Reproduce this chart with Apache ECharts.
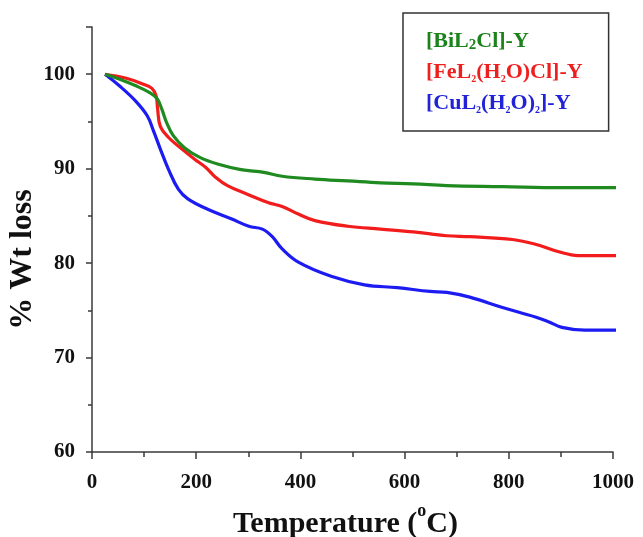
<!DOCTYPE html>
<html>
<head>
<meta charset="utf-8">
<script src="https://cdn.jsdelivr.net/npm/echarts@6/dist/echarts.min.js"></script>
<style>
  html, body { margin: 0; padding: 0; background: #fff; }
  #chart { width: 643px; height: 537px; }
</style>
</head>
<body>
<div id="chart"></div>
<script>
// TGA curves: residual mass (%) against temperature (°C)
const seriesNames = ['BiL2Cl', 'FeL2H2OCl', 'CuL2H2O2'];

const biTemp = [25, 52, 83, 109, 125, 134, 143, 156, 178, 207, 241, 286, 330, 365, 428, 491, 554, 617, 681, 788, 900, 1010];
const biMass = [100, 99.5, 98.8, 98.1, 97.4, 96.3, 94.9, 93.5, 92.2, 91.2, 90.5, 89.9, 89.6, 89.2, 88.9, 88.7, 88.5, 88.4, 88.2, 88.1, 88.0, 88.0];

const feTemp = [25, 64, 96, 115, 123, 126, 131, 147, 172, 197, 219, 235, 260, 298, 339, 365, 396, 428, 491, 554, 617, 681, 725, 807, 851, 896, 933, 1010];
const feMass = [100, 99.6, 99.0, 98.5, 97.7, 96.3, 94.5, 93.3, 92.1, 91.0, 90.1, 89.2, 88.2, 87.3, 86.4, 86.0, 85.2, 84.5, 83.9, 83.6, 83.3, 82.9, 82.8, 82.5, 82.0, 81.2, 80.8, 80.8];

const cuTemp = [25, 52, 83, 106, 118, 131, 147, 166, 184, 222, 267, 301, 327, 346, 365, 396, 459, 523, 586, 649, 681, 725, 788, 851, 876, 902, 946, 1010];
const cuMass = [100, 98.8, 97.2, 95.6, 94.0, 92.1, 89.9, 87.8, 86.8, 85.7, 84.7, 83.9, 83.6, 82.8, 81.5, 80.1, 78.6, 77.7, 77.4, 77.0, 76.9, 76.4, 75.3, 74.3, 73.8, 73.2, 72.9, 72.9];

const xTicks = [0, 200, 400, 600, 800, 1000];
const yTicks = [60, 70, 80, 90, 100];

const lineColors = ['#1f8a1f', '#f21c1c', '#1c1cf2'];
const legendColors = ['#1c821c', '#ee1f1f', '#2222d6'];

// legend labels with subscripts as rich text
const legendRich = {
  BiL2Cl: '[BiL{s2|2}Cl]-Y',
  FeL2H2OCl: '[FeL{s|2}(H{s|2}O)Cl]-Y',
  CuL2H2O2: '[CuL{s|2}(H{s|2}O){s|2}]-Y'
};

const serif = 'Liberation Serif';

function pairs(xs, ys) {
  return xs.map((x, i) => [x, ys[i]]);
}

const chart = echarts.init(document.getElementById('chart'), null, { renderer: 'canvas' });

const axisLineStyle = { color: '#3a3a3a', width: 1.5 };

chart.setOption({
  backgroundColor: '#fff',
  animation: false,
  grid: { left: 92, right: 30, top: 27, bottom: 85, outerBoundsMode: 'none' },
  legend: {
    orient: 'vertical',
    left: 403,
    top: 13,
    icon: 'none',
    itemWidth: 0,
    itemHeight: 10,
    itemGap: 7,
    padding: [16, 26, 16, 18],
    borderColor: '#333',
    borderWidth: 1.5,
    selectedMode: false,
    data: seriesNames.map((n, i) => ({ name: n, textStyle: { color: legendColors[i] } })),
    formatter: name => legendRich[name],
    textStyle: {
      fontFamily: serif,
      fontWeight: 'bold',
      fontSize: 22,
      lineHeight: 24,
      rich: {
        s: { fontFamily: serif, fontWeight: 'bold', fontSize: 10, verticalAlign: 'bottom', lineHeight: 18 },
        s2: { fontFamily: serif, fontWeight: 'bold', fontSize: 15, verticalAlign: 'bottom', lineHeight: 16 }
      }
    }
  },
  xAxis: {
    type: 'value',
    min: 0,
    max: 1000,
    interval: 200,
    name: '{m|Temperature (}{sup|o}{m|C)}',
    nameLocation: 'middle',
    nameGap: 50,
    nameMoveOverlap: false,
    nameTextStyle: {
      fontFamily: serif,
      fontWeight: 'bold',
      fontSize: 30,
      color: '#111',
      padding: [0, 14, 0, 0],
      rich: {
        m: { fontFamily: serif, fontWeight: 'bold', fontSize: 30, color: '#111', lineHeight: 44, verticalAlign: 'middle' },
        sup: { fontFamily: serif, fontWeight: 'bold', fontSize: 18, color: '#111', lineHeight: 20, verticalAlign: 'top' }
      }
    },
    axisLine: { show: true, onZero: false, lineStyle: axisLineStyle },
    axisTick: { show: true, inside: false, length: 7, lineStyle: axisLineStyle },
    minorTick: { show: true, splitNumber: 2, length: 5, lineStyle: axisLineStyle },
    splitLine: { show: false },
    axisLabel: {
      margin: 20,
      fontFamily: serif,
      fontWeight: 'bold',
      fontSize: 21,
      color: '#111',
      customValues: xTicks,
      formatter: v => String(v)
    }
  },
  yAxis: {
    type: 'value',
    min: 60,
    max: 105,
    interval: 10,
    name: '% Wt loss',
    nameLocation: 'middle',
    nameGap: 53,
    nameMoveOverlap: false,
    nameRotate: 90,
    nameTextStyle: {
      fontFamily: serif,
      fontWeight: 'bold',
      fontSize: 32,
      color: '#111',
      padding: [0, 40, 0, 0]
    },
    axisLine: { show: true, onZero: false, lineStyle: axisLineStyle },
    axisTick: { show: true, inside: false, length: 6, lineStyle: axisLineStyle },
    minorTick: { show: true, splitNumber: 2, length: 4, lineStyle: axisLineStyle },
    splitLine: { show: false },
    axisLabel: {
      margin: 17,
      fontFamily: serif,
      fontWeight: 'bold',
      fontSize: 21,
      color: '#111',
      customValues: yTicks,
      formatter: v => String(v)
    }
  },
  series: [
    { name: seriesNames[0], data: pairs(biTemp, biMass) },
    { name: seriesNames[1], data: pairs(feTemp, feMass) },
    { name: seriesNames[2], data: pairs(cuTemp, cuMass) }
  ].map((s, i) => Object.assign(s, {
    type: 'line',
    smooth: 0.4,
    showSymbol: false,
    clip: false,
    z: 3 - i,
    lineStyle: { color: lineColors[i], width: 3.2 },
    itemStyle: { color: lineColors[i] }
  }))
});
</script>
</body>
</html>
